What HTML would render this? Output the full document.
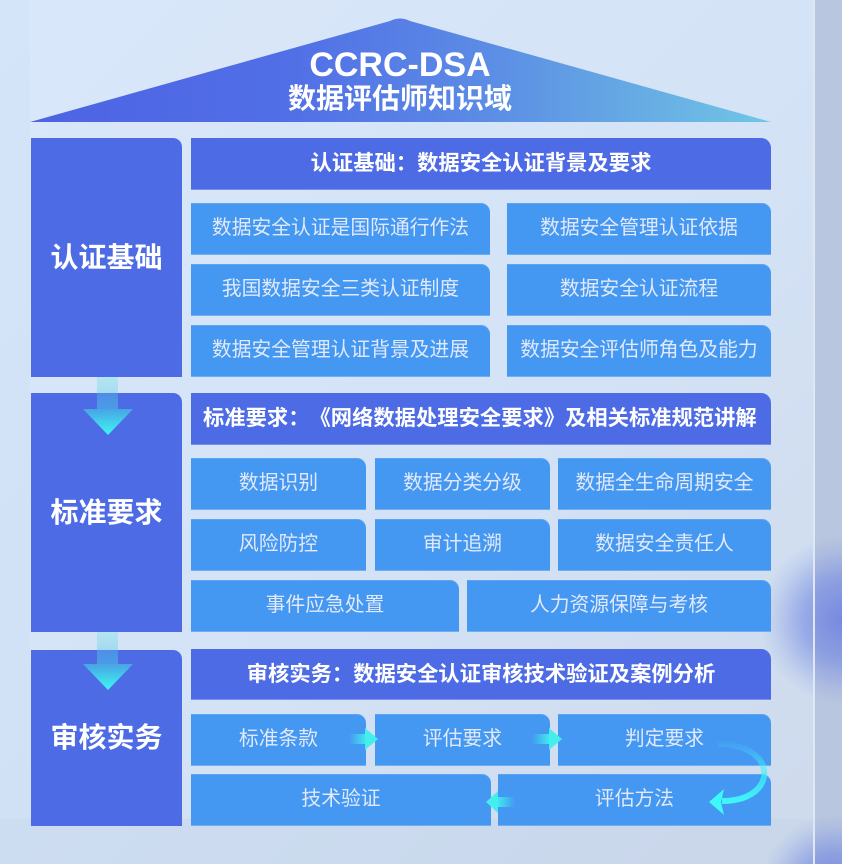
<!DOCTYPE html>
<html>
<head>
<meta charset="utf-8">
<style>
  html,body{margin:0;padding:0;width:842px;height:864px;overflow:hidden;}
  #wrap{width:842px;height:864px;position:relative;overflow:hidden;
    background:linear-gradient(135deg,#d5e5f9 0%,#d1e1f5 50%,#ccd8eb 100%);
    font-family:"Liberation Sans","Noto Sans CJK SC",sans-serif;
    text-spacing-trim:space-all;}
  .abs{position:absolute;}
  .panel{left:30px;top:0;width:783px;height:819px;background:linear-gradient(135deg,rgba(255,255,255,0.10),rgba(255,255,255,0.04));}
  .strip{left:813px;top:0;width:29px;height:864px;background:#b9c6df;}
  .sline{left:813px;top:0;width:2px;height:864px;background:#dfe7f3;}
  .bottom{left:0;top:819px;width:813px;height:45px;background:rgba(190,205,228,0.18);}
  .blob1{left:760px;top:535px;width:82px;height:170px;
    background:radial-gradient(circle 85px at 85px 85px,rgba(105,125,225,0.85) 0%,rgba(105,128,225,0.55) 48%,rgba(110,135,225,0.15) 83%,rgba(110,135,225,0) 100%);}
  .blob2{left:760px;top:800px;width:82px;height:64px;
    background:radial-gradient(circle 75px at 75px 90px,rgba(105,125,225,0.85) 0%,rgba(105,128,225,0.55) 48%,rgba(110,135,225,0.15) 83%,rgba(110,135,225,0) 100%);}
  .left{background:#4e6be6;border-top-right-radius:9px;color:#fff;font-weight:700;font-size:28px;
    display:flex;align-items:center;justify-content:center;line-height:1;}
  .hdr{background:#4e6be6;border-top-right-radius:10px;color:#fff;font-weight:700;font-size:21.3px;
    display:flex;align-items:center;justify-content:center;line-height:1;white-space:nowrap;
    box-shadow:inset 0 -1px 0 rgba(255,255,255,0.25);}
  .it{background:#4598f2;border-top-right-radius:9px;color:#e1e9fb;font-size:19.8px;
    display:flex;align-items:center;justify-content:center;line-height:1;white-space:nowrap;
    box-shadow:inset 0 -1px 0 rgba(255,255,255,0.22), inset 0 1px 0 rgba(255,255,255,0.12);}
  .it span,.hdr span,.left span{position:relative;top:0px;}
  .title{left:0;width:800px;text-align:center;color:#fff;font-weight:700;}
</style>
</head>
<body>
<div id="wrap">
<div class="abs panel"></div>
<div class="abs bottom"></div>
<div class="abs strip"></div>
<div class="abs blob1"></div>
<div class="abs blob2"></div>
<div class="abs sline"></div>

<!-- Roof -->
<svg class="abs" style="left:0;top:0" width="842" height="130">
  <defs>
    <linearGradient id="roof" x1="30" y1="0" x2="771" y2="0" gradientUnits="userSpaceOnUse">
      <stop offset="0" stop-color="#4d63e4"/>
      <stop offset="0.35" stop-color="#516fe6"/>
      <stop offset="0.6" stop-color="#5b8ae5"/>
      <stop offset="0.8" stop-color="#65a8e4"/>
      <stop offset="1" stop-color="#71c6e6"/>
    </linearGradient>
  </defs>
  <path d="M30 122 L390 21 Q400 16 410 21 L771 122 Z" fill="url(#roof)"/>
</svg>
<div class="abs title" style="top:48px;font-size:34px;line-height:34px;">CCRC-DSA</div>
<div class="abs title" style="top:85px;font-size:28px;line-height:28px;">数据评估师知识域</div>

<!-- Left column -->
<div class="abs left" style="left:31px;top:138px;width:151px;height:239px;"><span>认证基础</span></div>
<div class="abs left" style="left:31px;top:393px;width:151px;height:239px;"><span>标准要求</span></div>
<div class="abs left" style="left:31px;top:650px;width:151px;height:176px;"><span>审核实务</span></div>

<!-- Section 1 -->
<div class="abs hdr" style="left:191px;top:138px;width:580px;height:52px;"><span>认证基础：数据安全认证背景及要求</span></div>
<div class="abs it" style="left:191px;top:203px;width:299px;height:52px;"><span>数据安全认证是国际通行作法</span></div>
<div class="abs it" style="left:507px;top:203px;width:264px;height:52px;"><span>数据安全管理认证依据</span></div>
<div class="abs it" style="left:191px;top:264px;width:299px;height:52px;"><span>我国数据安全三类认证制度</span></div>
<div class="abs it" style="left:507px;top:264px;width:264px;height:52px;"><span>数据安全认证流程</span></div>
<div class="abs it" style="left:191px;top:325px;width:299px;height:52px;"><span>数据安全管理认证背景及进展</span></div>
<div class="abs it" style="left:507px;top:325px;width:264px;height:52px;"><span>数据安全评估师角色及能力</span></div>

<!-- Section 2 -->
<div class="abs hdr" style="left:191px;top:393px;width:580px;height:52px;justify-content:flex-start;"><span style="left:12px;">标准要求：《网络数据处理安全要求》及相关标准规范讲解</span></div>
<div class="abs it" style="left:191px;top:458px;width:175px;height:52px;"><span>数据识别</span></div>
<div class="abs it" style="left:375px;top:458px;width:175px;height:52px;"><span>数据分类分级</span></div>
<div class="abs it" style="left:558px;top:458px;width:213px;height:52px;"><span>数据全生命周期安全</span></div>
<div class="abs it" style="left:191px;top:519px;width:175px;height:52px;"><span>风险防控</span></div>
<div class="abs it" style="left:375px;top:519px;width:175px;height:52px;"><span>审计追溯</span></div>
<div class="abs it" style="left:558px;top:519px;width:213px;height:52px;"><span>数据安全责任人</span></div>
<div class="abs it" style="left:191px;top:580px;width:268px;height:52px;"><span>事件应急处置</span></div>
<div class="abs it" style="left:467px;top:580px;width:304px;height:52px;"><span>人力资源保障与考核</span></div>

<!-- Section 3 -->
<div class="abs hdr" style="left:191px;top:649px;width:580px;height:51px;"><span>审核实务：数据安全认证审核技术验证及案例分析</span></div>
<div class="abs it" style="left:191px;top:714px;width:175px;height:52px;"><span>标准条款</span></div>
<div class="abs it" style="left:375px;top:714px;width:175px;height:52px;"><span>评估要求</span></div>
<div class="abs it" style="left:558px;top:714px;width:213px;height:52px;"><span>判定要求</span></div>
<div class="abs it" style="left:191px;top:774px;width:300px;height:52px;"><span>技术验证</span></div>
<div class="abs it" style="left:498px;top:774px;width:273px;height:52px;"><span>评估方法</span></div>

<!-- Arrows overlay -->
<svg class="abs" style="left:0;top:0" width="842" height="864">
  <defs>
    <linearGradient id="dsh1" x1="0" y1="377" x2="0" y2="410" gradientUnits="userSpaceOnUse">
      <stop offset="0" stop-color="#5fe8e0" stop-opacity="0.3"/>
      <stop offset="0.5" stop-color="#4fc8e8" stop-opacity="0.35"/>
      <stop offset="1" stop-color="#48b0e8" stop-opacity="0.7"/>
    </linearGradient>
    <linearGradient id="dhd1" x1="0" y1="409" x2="0" y2="435" gradientUnits="userSpaceOnUse">
      <stop offset="0" stop-color="#48a4e4"/>
      <stop offset="1" stop-color="#3ef8f2"/>
    </linearGradient>
    <linearGradient id="dsh2" x1="0" y1="632" x2="0" y2="665" gradientUnits="userSpaceOnUse">
      <stop offset="0" stop-color="#5fe8e0" stop-opacity="0.3"/>
      <stop offset="0.5" stop-color="#4fc8e8" stop-opacity="0.35"/>
      <stop offset="1" stop-color="#48b0e8" stop-opacity="0.7"/>
    </linearGradient>
    <linearGradient id="dhd2" x1="0" y1="664" x2="0" y2="690" gradientUnits="userSpaceOnUse">
      <stop offset="0" stop-color="#48a4e4"/>
      <stop offset="1" stop-color="#3ef8f2"/>
    </linearGradient>
    <linearGradient id="hr1" x1="349" y1="0" x2="367" y2="0" gradientUnits="userSpaceOnUse">
      <stop offset="0" stop-color="#40f0ee" stop-opacity="0"/>
      <stop offset="1" stop-color="#40f0ee" stop-opacity="0.95"/>
    </linearGradient>
    <linearGradient id="hr2" x1="532" y1="0" x2="550" y2="0" gradientUnits="userSpaceOnUse">
      <stop offset="0" stop-color="#40f0ee" stop-opacity="0"/>
      <stop offset="1" stop-color="#40f0ee" stop-opacity="0.95"/>
    </linearGradient>
    <linearGradient id="hl1" x1="515" y1="0" x2="497" y2="0" gradientUnits="userSpaceOnUse">
      <stop offset="0" stop-color="#40f0ee" stop-opacity="0"/>
      <stop offset="1" stop-color="#40f0ee" stop-opacity="0.95"/>
    </linearGradient>
    <linearGradient id="curve" x1="0" y1="742" x2="0" y2="803" gradientUnits="userSpaceOnUse">
      <stop offset="0" stop-color="#3ef2fa" stop-opacity="0.05"/>
      <stop offset="0.45" stop-color="#3ef2fa" stop-opacity="0.6"/>
      <stop offset="1" stop-color="#3ef8fa" stop-opacity="1"/>
    </linearGradient>
  </defs>
  <rect x="97" y="377" width="21" height="33" fill="url(#dsh1)"/>
  <polygon points="83,409 133,409 108,435" fill="url(#dhd1)"/>
  <rect x="97" y="632" width="21" height="33" fill="url(#dsh2)"/>
  <polygon points="83,664 133,664 108,690" fill="url(#dhd2)"/>
  <rect x="349" y="734" width="17" height="10" fill="url(#hr1)"/>
  <polygon points="365,728 378,739 365,750" fill="#44eeec"/>
  <rect x="532" y="734" width="18" height="10" fill="url(#hr2)"/>
  <polygon points="549,728 562,739 549,750" fill="#44eeec"/>
  <rect x="497" y="797" width="18" height="10" fill="url(#hl1)"/>
  <polygon points="498,791 486,802 498,813" fill="#44eeec"/>
  <path d="M718 744 C779 744, 779 801, 722 801" fill="none" stroke="url(#curve)" stroke-width="6"/>
  <polygon points="709,802 724,789 721,802 724,815" fill="#3ef8fa"/>
</svg>
</div>
</body>
</html>
